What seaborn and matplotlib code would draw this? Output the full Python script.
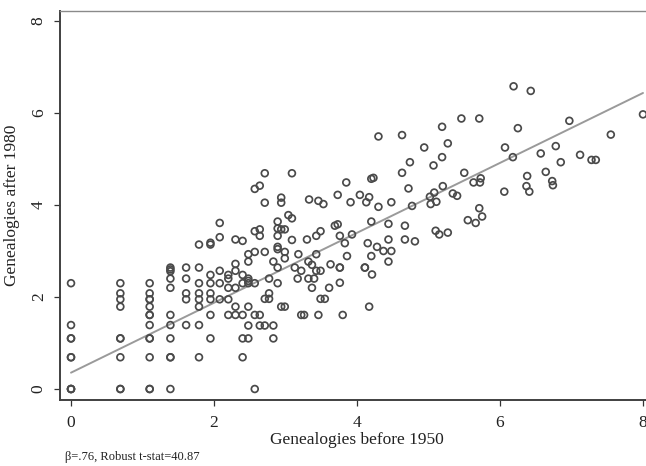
import numpy as np
import pandas as pd
import seaborn as sns
import matplotlib
matplotlib.use("Agg")
import matplotlib.pyplot as plt

# log genealogy counts per unit: before 1950 (x) and after 1980 (y)
before_1950 = [
    0, 0, 0, 0, 0, 0, 0, 0, 0,
    0.69, 0.69, 0.69, 0.69, 0.69, 0.69, 0.69, 0.69, 0.69,
    1.10, 1.10, 1.10, 1.10, 1.10, 1.10, 1.10, 1.10, 1.10, 1.10, 1.10, 1.10, 1.10,
    1.39, 1.39, 1.39, 1.39, 1.39, 1.39, 1.39, 1.39, 1.39, 1.39, 1.39,
    1.61, 1.61, 1.61, 1.61, 1.61,
    1.79, 1.79, 1.79, 1.79, 1.79, 1.79, 1.79, 1.79,
    1.95, 1.95, 1.95, 1.95, 1.95, 1.95, 1.95, 1.95,
    2.08, 2.08, 2.08, 2.08, 2.08,
    2.20, 2.20, 2.20, 2.20, 2.20,
    2.30, 2.30, 2.30, 2.30, 2.30, 2.30,
    2.40, 2.40, 2.40, 2.40, 2.40, 2.40,
    2.48, 2.48, 2.48, 2.48, 2.48, 2.48, 2.48, 2.48,
    2.57, 2.57, 2.57, 2.57, 2.57, 2.57,
    2.64, 2.64, 2.64, 2.64, 2.64,
    2.71, 2.71, 2.71, 2.71, 2.71,
    2.77, 2.77, 2.77,
    2.83, 2.83, 2.83,
    2.89, 2.89, 2.89, 2.89, 2.89, 2.89, 2.89,
    2.94, 2.94, 2.94, 2.94,
    2.99, 2.99, 2.99, 2.99,
    3.04, 3.09, 3.09, 3.09,
    3.13, 3.17, 3.18, 3.22, 3.22, 3.26,
    3.30, 3.33, 3.32, 3.32, 3.37, 3.37, 3.40,
    3.43, 3.43, 3.43, 3.46, 3.46, 3.49, 3.49, 3.49, 3.53, 3.55,
    3.61, 3.63, 3.69, 3.73, 3.73, 3.76, 3.76, 3.76, 3.76, 3.80, 3.83, 3.85, 3.86, 3.91, 3.93,
    4.04, 4.11, 4.11, 4.13, 4.15, 4.17, 4.17, 4.20, 4.20, 4.20, 4.21, 4.23, 4.28,
    4.30, 4.30, 4.37, 4.44, 4.44, 4.44, 4.48, 4.48,
    4.63, 4.63, 4.67, 4.67, 4.72, 4.74, 4.77, 4.81, 4.94,
    5.02, 5.03, 5.07, 5.08, 5.10, 5.11, 5.15, 5.19, 5.19, 5.20, 5.27, 5.27,
    5.34, 5.40, 5.46, 5.50, 5.55, 5.63, 5.66, 5.71, 5.71, 5.72, 5.73, 5.75,
    6.06, 6.07, 6.18, 6.19, 6.25, 6.37, 6.38, 6.41, 6.43, 6.57, 6.64, 6.73, 6.74,
    6.78, 6.85, 6.97, 7.12, 7.28, 7.34, 7.55, 8.00,
]
after_1980 = [
    0, 0, 0, 0.69, 0.69, 1.10, 1.10, 1.39, 2.30,
    0, 0, 0.69, 1.10, 1.10, 1.79, 1.95, 2.08, 2.30,
    0, 0, 0.69, 1.10, 1.10, 1.39, 1.61, 1.61, 1.79, 1.95, 1.95, 2.08, 2.30,
    0, 0.69, 0.69, 1.10, 1.39, 1.61, 2.20, 2.40, 2.56, 2.60, 2.64,
    1.39, 1.95, 2.08, 2.40, 2.64,
    0.69, 1.39, 1.79, 1.95, 2.08, 2.30, 2.64, 3.14,
    1.10, 1.61, 1.95, 2.08, 2.30, 2.48, 3.14, 3.18,
    1.95, 2.30, 2.57, 3.30, 3.61,
    1.61, 1.95, 2.20, 2.40, 2.48,
    1.61, 1.79, 2.20, 2.57, 2.72, 3.25,
    0.69, 1.10, 1.61, 2.30, 2.48, 3.22,
    1.10, 1.38, 1.79, 2.30, 2.35, 2.40, 2.77, 2.93,
    0, 1.61, 2.30, 2.98, 3.43, 4.35,
    1.38, 1.61, 3.33, 3.47, 4.42,
    1.38, 1.96, 2.98, 4.05, 4.69,
    1.96, 2.08, 2.40,
    1.10, 1.38, 2.77,
    2.30, 2.64, 3.04, 3.09, 3.33, 3.49, 3.64,
    1.79, 3.47, 4.05, 4.16,
    1.79, 2.84, 2.98, 3.47,
    3.78, 3.24, 3.71, 4.69,
    2.64, 2.40, 2.93, 1.61, 2.57, 1.61,
    3.25, 4.12, 2.40, 2.77, 2.20, 2.70, 2.40,
    2.57, 2.93, 3.33, 1.61, 4.09, 1.96, 2.57, 3.43, 4.02, 1.96,
    2.20, 2.71, 3.55, 3.58, 4.22, 2.31, 2.64, 2.64, 3.33, 1.61, 3.17, 4.49, 2.89, 4.06, 3.36,
    4.22, 2.64, 2.64, 4.06, 3.17, 1.79, 4.17, 2.89, 3.64, 4.57, 2.49, 4.59, 3.09,
    3.96, 5.49, 3.00, 2.77, 3.25, 3.59, 3.00, 4.06,
    4.70, 5.52, 3.25, 3.55, 4.36, 4.93, 3.98, 3.21, 5.25,
    4.18, 4.02, 4.86, 4.27, 3.44, 4.07, 3.36, 5.04, 5.70, 4.41, 3.40, 5.34,
    4.25, 4.20, 5.88, 4.70, 3.67, 4.49, 3.61, 3.93, 5.88, 4.49, 4.58, 3.75,
    4.29, 5.25, 5.04, 6.58, 5.67, 4.41, 4.63, 4.29, 6.48, 5.12, 4.72, 4.52, 4.43,
    5.28, 4.93, 5.83, 5.09, 4.98, 4.98, 5.53, 5.97,
]

# OLS fit reported in the note
beta = 0.76
intercept = 0.355
note = "β=.76, Robust t-stat=40.87"

x_ticks = [0, 2, 4, 6, 8]
y_ticks = [0, 2, 4, 6, 8]

df = pd.DataFrame({"before": before_1950, "after": after_1980})

sns.set_theme(style="white")
plt.rcParams["font.family"] = ["Liberation Serif", "DejaVu Serif"]

W, H = 646, 466
fig = plt.figure(figsize=(W / 100, H / 100), dpi=100)
left, right, top, bottom = 60, 654, 11, 400
ax = fig.add_axes([left / W, 1 - bottom / H, (right - left) / W, (bottom - top) / H])

sns.scatterplot(data=df, x="before", y="after", ax=ax, marker="o", s=24,
                facecolor="none", edgecolor="#4a4a4a", linewidth=1.25, zorder=3)

fit_x = np.array([min(before_1950), max(before_1950)])
sns.lineplot(x=fit_x, y=intercept + beta * fit_x, ax=ax, color="#9a9a9a",
             linewidth=1.4, zorder=2)

ax.set_xlim(-0.154, 8.154)
ax.set_ylim(-0.239, 8.217)
ax.set_xticks(x_ticks)
ax.set_yticks(y_ticks)
ax.set_xticklabels([str(t) for t in x_ticks])
ax.set_yticklabels([str(t) for t in y_ticks], rotation=90, va="center")

ax.tick_params(axis="both", which="major", direction="out", length=4.5, width=0.9,
               color="#333333", labelsize=12.5, labelcolor="#222222", bottom=True, left=True)
ax.tick_params(axis="x", pad=6)
ax.tick_params(axis="y", pad=5)

for side in ["left", "bottom"]:
    ax.spines[side].set_color("#404040")
    ax.spines[side].set_linewidth(1.4)
ax.spines["top"].set_color("#8a8a8a")
ax.spines["top"].set_linewidth(1.0)
ax.spines["right"].set_visible(False)

ax.set_xlabel("Genealogies before 1950", fontsize=12.5, color="#222222", labelpad=1)
ax.set_ylabel("Genealogies after 1980", fontsize=12.5, color="#222222", labelpad=8)

fig.text(65 / W, 1 - 457 / H, note, fontsize=9, color="#222222", va="center", ha="left")

fig.savefig("out.png", dpi=100)
